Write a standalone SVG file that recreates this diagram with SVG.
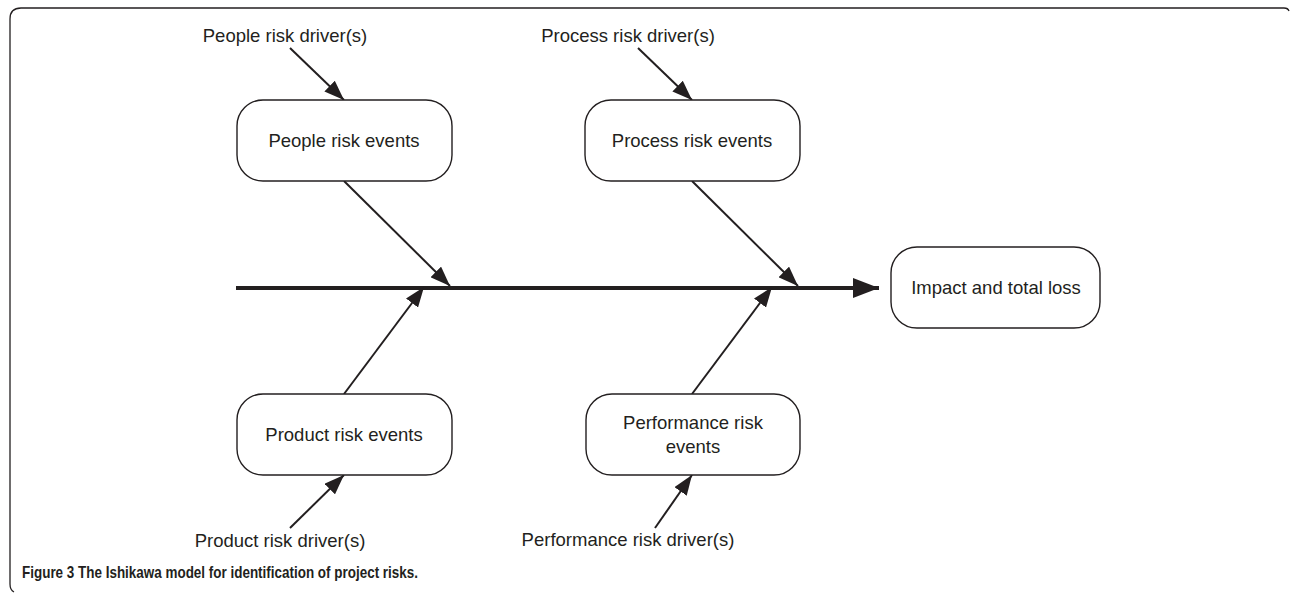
<svg xmlns="http://www.w3.org/2000/svg" width="1290" height="593" viewBox="0 0 1290 593">
  <style>
    .box { fill: #ffffff; stroke: #231f20; stroke-width: 1.4; }
    .lbl { font-family: "Liberation Sans", Arial, sans-serif; font-size: 18.5px; fill: #231f20; text-anchor: middle; }
    .bone { stroke: #231f20; stroke-width: 2; fill: none; }
    .spine { stroke: #231f20; stroke-width: 4; fill: none; }
    .frame { stroke: #231f20; stroke-width: 1.3; fill: none; }
    .cap { font-family: "Liberation Sans", Arial, sans-serif; font-size: 17px; font-weight: bold; fill: #231f20; }
  </style>
  <defs>
    <marker id="head" markerUnits="userSpaceOnUse" markerWidth="21" markerHeight="15" refX="20" refY="7.5" orient="auto">
      <path d="M0,0 L20,7.5 L0,15 Z" fill="#231f20"/>
    </marker>
    <marker id="bighead" markerUnits="userSpaceOnUse" markerWidth="27" markerHeight="20" refX="26" refY="10" orient="auto">
      <path d="M0,0 L26,10 L0,20 Z" fill="#231f20"/>
    </marker>
  </defs>

  <rect width="1290" height="593" fill="#ffffff"/>

  <!-- figure frame -->
  <path class="frame" d="M14,592 Q10,590 10,584 V19 Q10,8 21,8 H1284 Q1288,8 1289,11"/>

  <!-- connectors -->
  <g id="connectors">
    <line class="spine" x1="236" y1="288" x2="879" y2="288" marker-end="url(#bighead)"/>
    <line class="bone" x1="290" y1="48" x2="344" y2="100" marker-end="url(#head)"/>
    <line class="bone" x1="638" y1="48" x2="692" y2="100" marker-end="url(#head)"/>
    <line class="bone" x1="344" y1="181" x2="450" y2="286" marker-end="url(#head)"/>
    <line class="bone" x1="692" y1="181" x2="798" y2="286" marker-end="url(#head)"/>
    <line class="bone" x1="344" y1="394" x2="424" y2="287" marker-end="url(#head)"/>
    <line class="bone" x1="692" y1="394" x2="772" y2="287" marker-end="url(#head)"/>
    <line class="bone" x1="290" y1="528" x2="344" y2="475" marker-end="url(#head)"/>
    <line class="bone" x1="655" y1="528" x2="692" y2="475" marker-end="url(#head)"/>
  </g>

  <!-- driver labels -->
  <g id="people-driver"><text class="lbl" x="285" y="42">People risk driver(s)</text></g>
  <g id="process-driver"><text class="lbl" x="628" y="42">Process risk driver(s)</text></g>
  <g id="product-driver"><text class="lbl" x="280" y="547">Product risk driver(s)</text></g>
  <g id="performance-driver"><text class="lbl" x="628" y="546">Performance risk driver(s)</text></g>

  <!-- event nodes -->
  <g id="people-events">
    <rect class="box" x="237" y="100" width="215" height="81" rx="26"/>
    <text class="lbl" x="344" y="147">People risk events</text>
  </g>
  <g id="process-events">
    <rect class="box" x="585" y="100" width="215" height="81" rx="26"/>
    <text class="lbl" x="692" y="147">Process risk events</text>
  </g>
  <g id="product-events">
    <rect class="box" x="237" y="394" width="215" height="81" rx="26"/>
    <text class="lbl" x="344" y="441">Product risk events</text>
  </g>
  <g id="performance-events">
    <rect class="box" x="586" y="394" width="214" height="81" rx="26"/>
    <text class="lbl" x="693" y="429">Performance risk</text>
    <text class="lbl" x="693" y="453">events</text>
  </g>

  <!-- effect node -->
  <g id="impact">
    <rect class="box" x="891" y="247" width="209" height="81" rx="26"/>
    <text class="lbl" x="996" y="294">Impact and total loss</text>
  </g>

  <!-- caption -->
  <text class="cap" x="22" y="578" textLength="396" lengthAdjust="spacingAndGlyphs">Figure 3 The Ishikawa model for identification of project risks.</text>
</svg>
